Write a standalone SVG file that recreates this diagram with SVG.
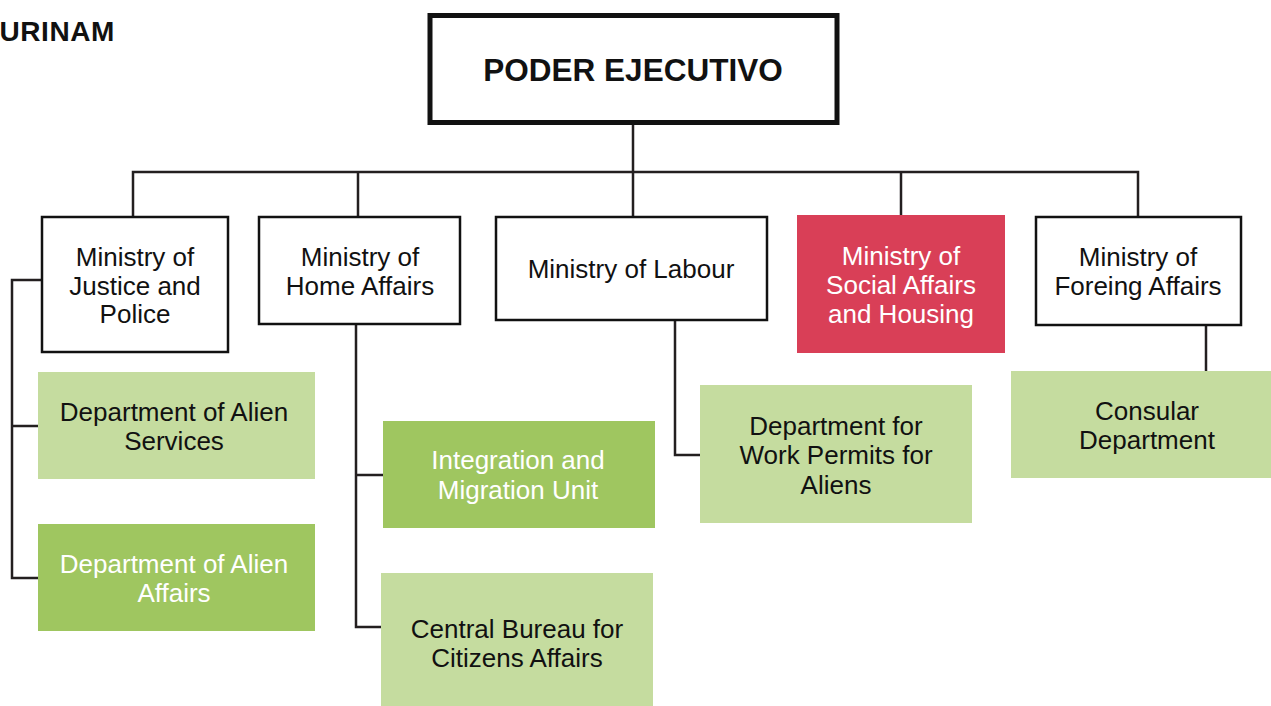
<svg xmlns="http://www.w3.org/2000/svg" width="1271" height="706" viewBox="0 0 1271 706">
<style>
text{font-family:"Liberation Sans",Arial,sans-serif;font-size:26px;text-anchor:middle;fill:#111}
.w{fill:#fff}
.box{fill:#fff;stroke:#111;stroke-width:2.5}
.lg{fill:#C5DC9F}
.mg{fill:#9FC660}
.red{fill:#D93F57}
.conn{fill:none;stroke:#231F20;stroke-width:2.5}
</style>
<rect width="1271" height="706" fill="#fff"/>
<text x="115" y="41" style="font-weight:bold;font-size:28px;text-anchor:end;letter-spacing:0.6px">URINAM</text>
<g id="connectors">
<path class="conn" d="M633 125V216M133 216V172H1138V216M358 172V216M901 172V216"/>
<path class="conn" d="M41 280H12V578H38M12 426H38"/>
<path class="conn" d="M356 325V627H381M356 475H383"/>
<path class="conn" d="M675 320V455H700"/>
<path class="conn" d="M1206 325V371"/>
</g>
<g id="exec">
<rect x="430" y="15.5" width="407" height="107" fill="#fff" stroke="#111" stroke-width="5"/>
<text x="633" y="81" style="font-weight:bold;font-size:31.5px">PODER EJECUTIVO</text>
</g>
<g id="justice">
<rect class="box" x="42" y="217" width="186" height="135"/>
<text x="135" y="266">Ministry of</text><text x="135" y="295">Justice and</text><text x="135" y="323">Police</text>
</g>
<g id="home">
<rect class="box" x="259" y="217" width="201" height="107"/>
<text x="360" y="266">Ministry of</text><text x="360" y="295">Home Affairs</text>
</g>
<g id="labour">
<rect class="box" x="496" y="217" width="271" height="103"/>
<text x="631" y="278">Ministry of Labour</text>
</g>
<g id="social">
<rect class="red" x="797" y="215" width="208" height="138"/>
<text class="w" x="901" y="265">Ministry of</text><text class="w" x="901" y="294">Social Affairs</text><text class="w" x="901" y="323">and Housing</text>
</g>
<g id="foreign">
<rect class="box" x="1036" y="217" width="205" height="108"/>
<text x="1138" y="266">Ministry of</text><text x="1138" y="295">Foreing Affairs</text>
</g>
<g id="alien-services">
<rect class="lg" x="38" y="372" width="277" height="107"/>
<text x="174" y="421">Department of Alien</text><text x="174" y="450">Services</text>
</g>
<g id="alien-affairs">
<rect class="mg" x="38" y="524" width="277" height="107"/>
<text class="w" x="174" y="573">Department of Alien</text><text class="w" x="174" y="602">Affairs</text>
</g>
<g id="integration">
<rect class="mg" x="383" y="421" width="272" height="107"/>
<text class="w" x="518" y="469">Integration and</text><text class="w" x="518" y="499">Migration Unit</text>
</g>
<g id="central-bureau">
<rect class="lg" x="381" y="573" width="272" height="133"/>
<text x="517" y="638">Central Bureau for</text><text x="517" y="667">Citizens Affairs</text>
</g>
<g id="work-permits">
<rect class="lg" x="700" y="385" width="272" height="138"/>
<text x="836" y="435">Department for</text><text x="836" y="464">Work Permits for</text><text x="836" y="494">Aliens</text>
</g>
<g id="consular">
<rect class="lg" x="1011" y="371" width="260" height="107"/>
<text x="1147" y="420">Consular</text><text x="1147" y="449">Department</text>
</g>
</svg>
